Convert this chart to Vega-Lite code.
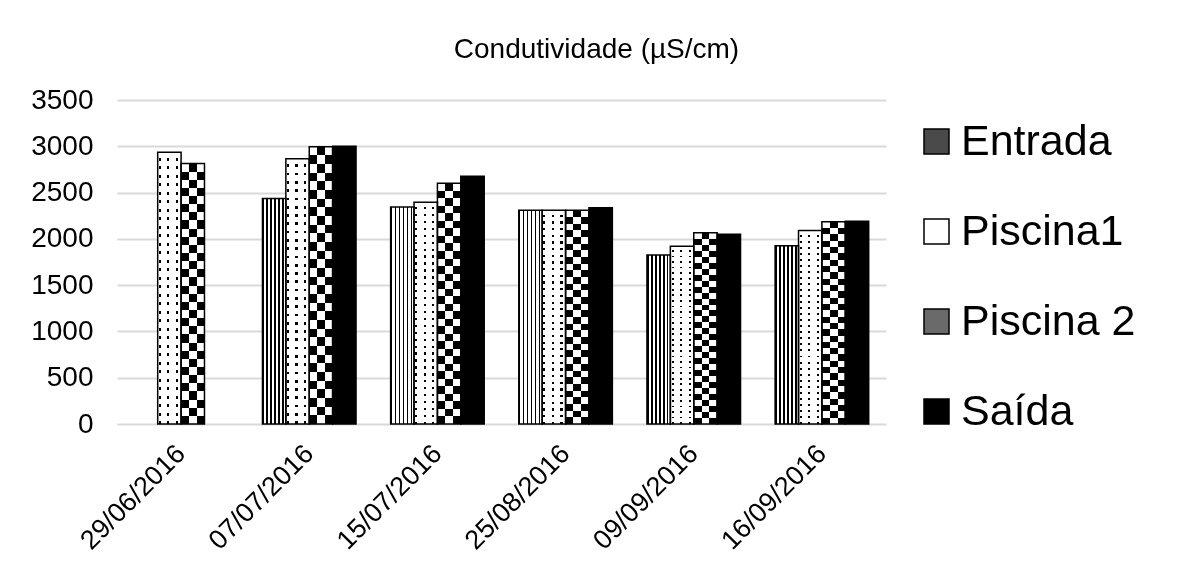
{
  "$schema": "https://vega.github.io/schema/vega-lite/v6.json",
  "autosize": "none",
  "width": 769,
  "height": 324,
  "padding": {"left": 117, "top": 100, "right": 296, "bottom": 143},
  "background": "#ffffff",
  "config": {"font": "Liberation Sans", "view": {"stroke": null}},
  "title": {
    "text": "Condutividade (µS/cm)",
    "fontSize": 28,
    "fontWeight": "normal",
    "color": "#000000",
    "anchor": "middle",
    "dx": 95,
    "offset": 22
  },
  "data": {
    "values": [
      {"data": "29/06/2016", "serie": "Piscina1", "valor": 2935},
      {"data": "29/06/2016", "serie": "Piscina 2", "valor": 2815},
      {"data": "07/07/2016", "serie": "Entrada", "valor": 2435},
      {"data": "07/07/2016", "serie": "Piscina1", "valor": 2865},
      {"data": "07/07/2016", "serie": "Piscina 2", "valor": 2995},
      {"data": "07/07/2016", "serie": "Saída", "valor": 3000},
      {"data": "15/07/2016", "serie": "Entrada", "valor": 2345},
      {"data": "15/07/2016", "serie": "Piscina1", "valor": 2395},
      {"data": "15/07/2016", "serie": "Piscina 2", "valor": 2600},
      {"data": "15/07/2016", "serie": "Saída", "valor": 2675},
      {"data": "25/08/2016", "serie": "Entrada", "valor": 2310},
      {"data": "25/08/2016", "serie": "Piscina1", "valor": 2310},
      {"data": "25/08/2016", "serie": "Piscina 2", "valor": 2310},
      {"data": "25/08/2016", "serie": "Saída", "valor": 2335},
      {"data": "09/09/2016", "serie": "Entrada", "valor": 1825},
      {"data": "09/09/2016", "serie": "Piscina1", "valor": 1920},
      {"data": "09/09/2016", "serie": "Piscina 2", "valor": 2065},
      {"data": "09/09/2016", "serie": "Saída", "valor": 2050},
      {"data": "16/09/2016", "serie": "Entrada", "valor": 1925},
      {"data": "16/09/2016", "serie": "Piscina1", "valor": 2090},
      {"data": "16/09/2016", "serie": "Piscina 2", "valor": 2185},
      {"data": "16/09/2016", "serie": "Saída", "valor": 2190}
    ]
  },
  "encoding": {
    "x": {
      "field": "data",
      "type": "nominal",
      "sort": ["29/06/2016", "07/07/2016", "15/07/2016", "25/08/2016", "09/09/2016", "16/09/2016"],
      "scale": {"paddingInner": 0.27, "paddingOuter": 0.135},
      "axis": {
        "title": null,
        "domain": false,
        "ticks": false,
        "labelAngle": -45,
        "labelFontSize": 27,
        "labelColor": "#000000",
        "labelPadding": 16,
        "labelOffset": -9
      }
    },
    "xOffset": {
      "field": "serie",
      "type": "nominal",
      "scale": {"domain": ["Entrada", "Piscina1", "Piscina 2", "Saída"], "paddingInner": 0, "paddingOuter": 0}
    },
    "y": {
      "field": "valor",
      "type": "quantitative",
      "scale": {"domain": [0, 3500], "nice": false},
      "axis": {
        "title": null,
        "values": [0, 500, 1000, 1500, 2000, 2500, 3000, 3500],
        "format": "d",
        "domain": false,
        "ticks": false,
        "grid": true,
        "gridColor": "#d9d9d9",
        "gridWidth": 2,
        "labelFontSize": 28,
        "labelColor": "#000000",
        "labelPadding": 24
      }
    }
  },
  "layer": [
    {
      "mark": {"type": "bar"},
      "encoding": {
        "fill": {
          "field": "serie",
          "type": "nominal",
          "scale": {"domain": ["Entrada", "Piscina1", "Piscina 2", "Saída"], "range": ["#4a4a4a", "#ffffff", "#6a6a6a", "#000000"]},
          "legend": {
            "title": null,
            "orient": "none",
            "legendX": 798,
            "legendY": 20,
            "padding": 0,
            "symbolType": "square",
            "symbolSize": 625,
            "symbolStrokeColor": "#000000",
            "symbolStrokeWidth": 1.5,
            "labelFontSize": 43,
            "labelColor": "#000000",
            "labelOffset": 3,
            "labelLimit": 400,
            "rowPadding": 46
          }
        }
      }
    },
    {
      "mark": {"type": "bar"},
      "encoding": {
        "fill": {
          "condition": [
            {"test": "datum.serie === 'Entrada'", "value": {"gradient": "linear", "x1": 0, "y1": 0, "x2": 1, "y2": 0, "stops": [
              {"offset": 0, "color": "#000"}, {"offset": 0.07, "color": "#000"}, {"offset": 0.07, "color": "#fff"}, {"offset": 0.17, "color": "#fff"},
              {"offset": 0.17, "color": "#000"}, {"offset": 0.24, "color": "#000"}, {"offset": 0.24, "color": "#fff"}, {"offset": 0.34, "color": "#fff"},
              {"offset": 0.34, "color": "#000"}, {"offset": 0.41, "color": "#000"}, {"offset": 0.41, "color": "#fff"}, {"offset": 0.51, "color": "#fff"},
              {"offset": 0.51, "color": "#000"}, {"offset": 0.58, "color": "#000"}, {"offset": 0.58, "color": "#fff"}, {"offset": 0.68, "color": "#fff"},
              {"offset": 0.68, "color": "#000"}, {"offset": 0.75, "color": "#000"}, {"offset": 0.75, "color": "#fff"}, {"offset": 0.85, "color": "#fff"},
              {"offset": 0.85, "color": "#000"}, {"offset": 0.92, "color": "#000"}, {"offset": 0.92, "color": "#fff"}, {"offset": 1, "color": "#fff"}]}},
            {"test": "datum.serie === 'Piscina1'", "value": {"gradient": "linear", "x1": 0, "y1": 0, "x2": 1, "y2": 0, "stops": [
              {"offset": 0, "color": "#fff"}, {"offset": 0.05, "color": "#fff"}, {"offset": 0.05, "color": "#000"}, {"offset": 0.14, "color": "#000"},
              {"offset": 0.14, "color": "#fff"}, {"offset": 0.41, "color": "#fff"}, {"offset": 0.41, "color": "#000"}, {"offset": 0.5, "color": "#000"},
              {"offset": 0.5, "color": "#fff"}, {"offset": 0.78, "color": "#fff"}, {"offset": 0.78, "color": "#000"}, {"offset": 0.87, "color": "#000"},
              {"offset": 0.87, "color": "#fff"}, {"offset": 1, "color": "#fff"}]}},
            {"test": "datum.serie === 'Piscina 2'", "value": {"gradient": "linear", "x1": 0, "y1": 0, "x2": 1, "y2": 0, "stops": [
              {"offset": 0, "color": "#000"}, {"offset": 0.333, "color": "#000"}, {"offset": 0.333, "color": "#fff"}, {"offset": 0.667, "color": "#fff"},
              {"offset": 0.667, "color": "#000"}, {"offset": 1, "color": "#000"}]}}
          ],
          "value": "#000000"
        }
      }
    },
    {
      "transform": [{"filter": "datum.serie === 'Piscina 2'"}],
      "mark": {"type": "bar", "blend": "difference", "fill": {"gradient": "linear", "x1": 0, "y1": 0, "x2": 0, "y2": 1, "stops": [
        {"offset": 0, "color": "#fff"}, {"offset": 0.03125, "color": "#fff"}, {"offset": 0.03125, "color": "#000"}, {"offset": 0.0625, "color": "#000"},
        {"offset": 0.0625, "color": "#fff"}, {"offset": 0.09375, "color": "#fff"}, {"offset": 0.09375, "color": "#000"}, {"offset": 0.125, "color": "#000"},
        {"offset": 0.125, "color": "#fff"}, {"offset": 0.15625, "color": "#fff"}, {"offset": 0.15625, "color": "#000"}, {"offset": 0.1875, "color": "#000"},
        {"offset": 0.1875, "color": "#fff"}, {"offset": 0.21875, "color": "#fff"}, {"offset": 0.21875, "color": "#000"}, {"offset": 0.25, "color": "#000"},
        {"offset": 0.25, "color": "#fff"}, {"offset": 0.28125, "color": "#fff"}, {"offset": 0.28125, "color": "#000"}, {"offset": 0.3125, "color": "#000"},
        {"offset": 0.3125, "color": "#fff"}, {"offset": 0.34375, "color": "#fff"}, {"offset": 0.34375, "color": "#000"}, {"offset": 0.375, "color": "#000"},
        {"offset": 0.375, "color": "#fff"}, {"offset": 0.40625, "color": "#fff"}, {"offset": 0.40625, "color": "#000"}, {"offset": 0.4375, "color": "#000"},
        {"offset": 0.4375, "color": "#fff"}, {"offset": 0.46875, "color": "#fff"}, {"offset": 0.46875, "color": "#000"}, {"offset": 0.5, "color": "#000"},
        {"offset": 0.5, "color": "#fff"}, {"offset": 0.53125, "color": "#fff"}, {"offset": 0.53125, "color": "#000"}, {"offset": 0.5625, "color": "#000"},
        {"offset": 0.5625, "color": "#fff"}, {"offset": 0.59375, "color": "#fff"}, {"offset": 0.59375, "color": "#000"}, {"offset": 0.625, "color": "#000"},
        {"offset": 0.625, "color": "#fff"}, {"offset": 0.65625, "color": "#fff"}, {"offset": 0.65625, "color": "#000"}, {"offset": 0.6875, "color": "#000"},
        {"offset": 0.6875, "color": "#fff"}, {"offset": 0.71875, "color": "#fff"}, {"offset": 0.71875, "color": "#000"}, {"offset": 0.75, "color": "#000"},
        {"offset": 0.75, "color": "#fff"}, {"offset": 0.78125, "color": "#fff"}, {"offset": 0.78125, "color": "#000"}, {"offset": 0.8125, "color": "#000"},
        {"offset": 0.8125, "color": "#fff"}, {"offset": 0.84375, "color": "#fff"}, {"offset": 0.84375, "color": "#000"}, {"offset": 0.875, "color": "#000"},
        {"offset": 0.875, "color": "#fff"}, {"offset": 0.90625, "color": "#fff"}, {"offset": 0.90625, "color": "#000"}, {"offset": 0.9375, "color": "#000"},
        {"offset": 0.9375, "color": "#fff"}, {"offset": 0.96875, "color": "#fff"}, {"offset": 0.96875, "color": "#000"}, {"offset": 1, "color": "#000"}]}}
    },
    {
      "transform": [{"filter": "datum.serie === 'Piscina1'"}],
      "mark": {"type": "bar", "blend": "lighten", "fill": {"gradient": "linear", "x1": 0, "y1": 0, "x2": 0, "y2": 1, "stops": [
        {"offset": 0, "color": "#fff"}, {"offset": 0.021, "color": "#fff"}, {"offset": 0.021, "color": "#000"}, {"offset": 0.03125, "color": "#000"},
        {"offset": 0.03125, "color": "#fff"}, {"offset": 0.05225, "color": "#fff"}, {"offset": 0.05225, "color": "#000"}, {"offset": 0.0625, "color": "#000"},
        {"offset": 0.0625, "color": "#fff"}, {"offset": 0.0835, "color": "#fff"}, {"offset": 0.0835, "color": "#000"}, {"offset": 0.09375, "color": "#000"},
        {"offset": 0.09375, "color": "#fff"}, {"offset": 0.11475, "color": "#fff"}, {"offset": 0.11475, "color": "#000"}, {"offset": 0.125, "color": "#000"},
        {"offset": 0.125, "color": "#fff"}, {"offset": 0.146, "color": "#fff"}, {"offset": 0.146, "color": "#000"}, {"offset": 0.15625, "color": "#000"},
        {"offset": 0.15625, "color": "#fff"}, {"offset": 0.17725, "color": "#fff"}, {"offset": 0.17725, "color": "#000"}, {"offset": 0.1875, "color": "#000"},
        {"offset": 0.1875, "color": "#fff"}, {"offset": 0.2085, "color": "#fff"}, {"offset": 0.2085, "color": "#000"}, {"offset": 0.21875, "color": "#000"},
        {"offset": 0.21875, "color": "#fff"}, {"offset": 0.23975, "color": "#fff"}, {"offset": 0.23975, "color": "#000"}, {"offset": 0.25, "color": "#000"},
        {"offset": 0.25, "color": "#fff"}, {"offset": 0.271, "color": "#fff"}, {"offset": 0.271, "color": "#000"}, {"offset": 0.28125, "color": "#000"},
        {"offset": 0.28125, "color": "#fff"}, {"offset": 0.30225, "color": "#fff"}, {"offset": 0.30225, "color": "#000"}, {"offset": 0.3125, "color": "#000"},
        {"offset": 0.3125, "color": "#fff"}, {"offset": 0.3335, "color": "#fff"}, {"offset": 0.3335, "color": "#000"}, {"offset": 0.34375, "color": "#000"},
        {"offset": 0.34375, "color": "#fff"}, {"offset": 0.36475, "color": "#fff"}, {"offset": 0.36475, "color": "#000"}, {"offset": 0.375, "color": "#000"},
        {"offset": 0.375, "color": "#fff"}, {"offset": 0.396, "color": "#fff"}, {"offset": 0.396, "color": "#000"}, {"offset": 0.40625, "color": "#000"},
        {"offset": 0.40625, "color": "#fff"}, {"offset": 0.42725, "color": "#fff"}, {"offset": 0.42725, "color": "#000"}, {"offset": 0.4375, "color": "#000"},
        {"offset": 0.4375, "color": "#fff"}, {"offset": 0.4585, "color": "#fff"}, {"offset": 0.4585, "color": "#000"}, {"offset": 0.46875, "color": "#000"},
        {"offset": 0.46875, "color": "#fff"}, {"offset": 0.48975, "color": "#fff"}, {"offset": 0.48975, "color": "#000"}, {"offset": 0.5, "color": "#000"},
        {"offset": 0.5, "color": "#fff"}, {"offset": 0.521, "color": "#fff"}, {"offset": 0.521, "color": "#000"}, {"offset": 0.53125, "color": "#000"},
        {"offset": 0.53125, "color": "#fff"}, {"offset": 0.55225, "color": "#fff"}, {"offset": 0.55225, "color": "#000"}, {"offset": 0.5625, "color": "#000"},
        {"offset": 0.5625, "color": "#fff"}, {"offset": 0.5835, "color": "#fff"}, {"offset": 0.5835, "color": "#000"}, {"offset": 0.59375, "color": "#000"},
        {"offset": 0.59375, "color": "#fff"}, {"offset": 0.61475, "color": "#fff"}, {"offset": 0.61475, "color": "#000"}, {"offset": 0.625, "color": "#000"},
        {"offset": 0.625, "color": "#fff"}, {"offset": 0.646, "color": "#fff"}, {"offset": 0.646, "color": "#000"}, {"offset": 0.65625, "color": "#000"},
        {"offset": 0.65625, "color": "#fff"}, {"offset": 0.67725, "color": "#fff"}, {"offset": 0.67725, "color": "#000"}, {"offset": 0.6875, "color": "#000"},
        {"offset": 0.6875, "color": "#fff"}, {"offset": 0.7085, "color": "#fff"}, {"offset": 0.7085, "color": "#000"}, {"offset": 0.71875, "color": "#000"},
        {"offset": 0.71875, "color": "#fff"}, {"offset": 0.73975, "color": "#fff"}, {"offset": 0.73975, "color": "#000"}, {"offset": 0.75, "color": "#000"},
        {"offset": 0.75, "color": "#fff"}, {"offset": 0.771, "color": "#fff"}, {"offset": 0.771, "color": "#000"}, {"offset": 0.78125, "color": "#000"},
        {"offset": 0.78125, "color": "#fff"}, {"offset": 0.80225, "color": "#fff"}, {"offset": 0.80225, "color": "#000"}, {"offset": 0.8125, "color": "#000"},
        {"offset": 0.8125, "color": "#fff"}, {"offset": 0.8335, "color": "#fff"}, {"offset": 0.8335, "color": "#000"}, {"offset": 0.84375, "color": "#000"},
        {"offset": 0.84375, "color": "#fff"}, {"offset": 0.86475, "color": "#fff"}, {"offset": 0.86475, "color": "#000"}, {"offset": 0.875, "color": "#000"},
        {"offset": 0.875, "color": "#fff"}, {"offset": 0.896, "color": "#fff"}, {"offset": 0.896, "color": "#000"}, {"offset": 0.90625, "color": "#000"},
        {"offset": 0.90625, "color": "#fff"}, {"offset": 0.92725, "color": "#fff"}, {"offset": 0.92725, "color": "#000"}, {"offset": 0.9375, "color": "#000"},
        {"offset": 0.9375, "color": "#fff"}, {"offset": 0.9585, "color": "#fff"}, {"offset": 0.9585, "color": "#000"}, {"offset": 0.96875, "color": "#000"},
        {"offset": 0.96875, "color": "#fff"}, {"offset": 0.98975, "color": "#fff"}, {"offset": 0.98975, "color": "#000"}, {"offset": 1, "color": "#000"}]}}
    },
    {
      "mark": {"type": "bar", "fillOpacity": 0, "stroke": "#000000", "strokeWidth": 1.5}
    }
  ]
}
